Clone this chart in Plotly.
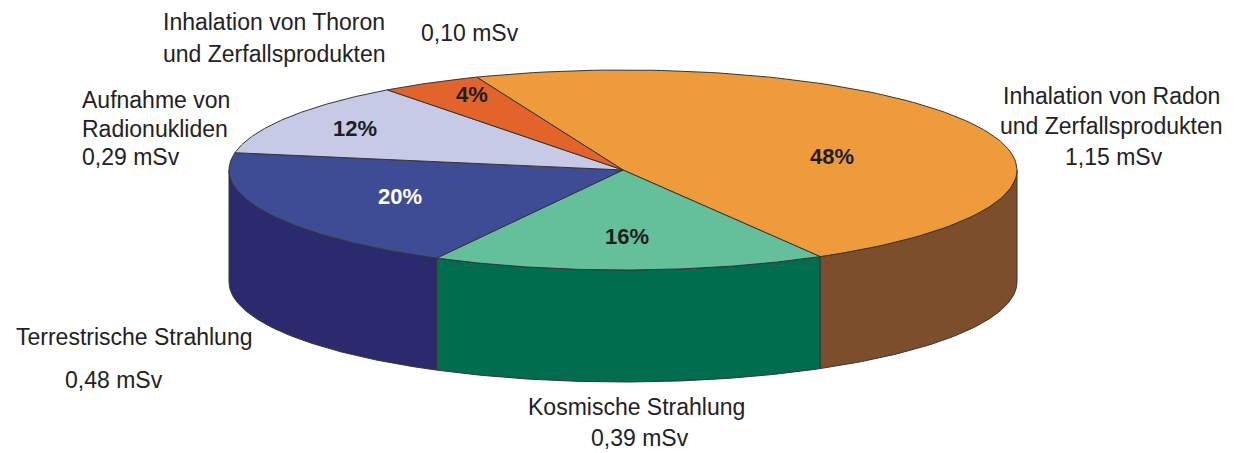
import numpy as np
import plotly.graph_objects as go

# Mittlere jährliche effektive Dosis durch natürliche Strahlenquellen (mSv)
sources = [
    "Inhalation von Radon und Zerfallsprodukten",
    "Kosmische Strahlung",
    "Terrestrische Strahlung",
    "Aufnahme von Radionukliden",
    "Inhalation von Thoron und Zerfallsprodukten",
]
dose_msv = [1.15, 0.39, 0.48, 0.29, 0.10]
dose_labels = ["1,15 mSv", "0,39 mSv", "0,48 mSv", "0,29 mSv", "0,10 mSv"]

top_colors = ["#EE9B3B", "#63C09A", "#3E4C95", "#C6CAE6", "#E3642B"]
side_colors = ["#7C4E2B", "#006D4F", "#2C2A6F", "#9EA2C4", "#B04A1E"]
pct_colors = ["#1e1e1e", "#1e1e1e", "#ffffff", "#1e1e1e", "#1e1e1e"]
# label placement as fraction of the radii (x, y) along the mid angle
pct_pos = [(0.59, 0.30), (0.67, 0.67), (0.63, 0.60), (0.80, 0.80), (0.785, 0.86)]

W, H = 1237, 453
cx, cy = 623.0, 170.0      # centre of the top face
rx, ry = 394.0, 100.0      # radii of the top ellipse
depth = 112.0              # height of the cylinder wall
start_deg = 111.8          # first slice starts here and runs clockwise
edge = "#353535"

total = sum(dose_msv)
shares = [v / total for v in dose_msv]


def ellipse_pts(a0, a1, dy=0.0, n=120):
    t = np.radians(np.linspace(a0, a1, n))
    return cx + rx * np.cos(t), cy - ry * np.sin(t) + dy


fig = go.Figure()

# slice angle ranges (degrees, clockwise => decreasing)
ranges = []
a = start_deg
for s in shares:
    ranges.append((a, a - 360 * s))
    a -= 360 * s

# visible wall pieces (front half: angles between -180 and 0)
for (a0, a1), col in zip(ranges, side_colors):
    for off in (0, -360):
        lo, hi = a1 + off, a0 + off
        v0, v1 = max(lo, -180), min(hi, 0)
        if v1 <= v0:
            continue
        xt, yt = ellipse_pts(v1, v0)
        xb, yb = ellipse_pts(v0, v1, dy=depth)
        xs = np.concatenate([xt, xb, xt[:1]])
        ys = np.concatenate([yt, yb, yt[:1]])
        fig.add_trace(go.Scatter(x=xs, y=ys, mode="lines", fill="toself",
                                 fillcolor=col, line=dict(color=edge, width=1),
                                 hoverinfo="skip", showlegend=False))

# top faces
for (a0, a1), col in zip(ranges, top_colors):
    xa, ya = ellipse_pts(a0, a1)
    xs = np.concatenate([[cx], xa, [cx]])
    ys = np.concatenate([[cy], ya, [cy]])
    fig.add_trace(go.Scatter(x=xs, y=ys, mode="lines", fill="toself",
                             fillcolor=col, line=dict(color=edge, width=1),
                             hoverinfo="skip", showlegend=False))

font = "Arial, Liberation Sans, sans-serif"

# percentage labels on the slices
for (a0, a1), s, (fx, fy), c in zip(ranges, shares, pct_pos, pct_colors):
    m = np.radians((a0 + a1) / 2)
    fig.add_annotation(x=cx + fx * rx * np.cos(m), y=cy - fy * ry * np.sin(m),
                       text=f"<b>{round(s * 100)}%</b>", showarrow=False,
                       font=dict(family=font, size=22, color=c))

# source names and doses
text_lines = [
    ("Inhalation von Thoron", 274, 22, "center"),
    ("und Zerfallsprodukten", 274, 54, "center"),
    (dose_labels[4], 470, 33, "center"),
    ("Aufnahme von", 80, 100, "left"),
    ("Radionukliden", 80, 129, "left"),
    (dose_labels[3], 80, 157, "left"),
    ("Inhalation von Radon", 1111, 96, "center"),
    ("und Zerfallsprodukten", 1111, 126, "center"),
    (dose_labels[0], 1114, 157, "center"),
    ("Terrestrische Strahlung", 134, 337, "center"),
    (dose_labels[2], 114, 380, "center"),
    ("Kosmische Strahlung", 636, 407, "center"),
    (dose_labels[1], 640, 438, "center"),
]
for txt, x, y, al in text_lines:
    fig.add_annotation(x=x, y=y, text=txt, showarrow=False, xanchor=al,
                       yanchor="middle",
                       font=dict(family=font, size=23, color="#222222"))

fig.update_layout(
    width=W, height=H, margin=dict(l=0, r=0, t=0, b=0),
    paper_bgcolor="white", plot_bgcolor="white",
    xaxis=dict(range=[0, W], visible=False, fixedrange=True),
    yaxis=dict(range=[H, 0], visible=False, fixedrange=True),
    showlegend=False,
)

fig.write_html("out.html")
